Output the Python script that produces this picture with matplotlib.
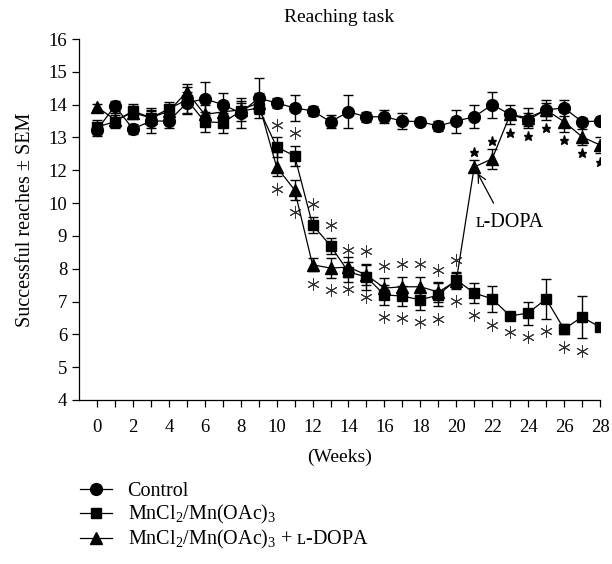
import numpy as np
import matplotlib
matplotlib.use("Agg")
import matplotlib.pyplot as plt
from matplotlib.lines import Line2D
from matplotlib.transforms import offset_copy

plt.rcParams['font.family'] = ['Liberation Serif', 'DejaVu Serif']
plt.rcParams['mathtext.fontset'] = 'custom'
plt.rcParams['mathtext.rm'] = 'Liberation Serif'
plt.rcParams['mathtext.it'] = 'Liberation Serif:italic'
plt.rcParams['font.size'] = 14

weeks = np.arange(29)

control = [13.23, 13.96, 13.26, 13.5, 13.5, 14.05, 14.18, 14.0, 13.75, 14.2,
           14.05, 13.9, 13.81, 13.48, 13.78, 13.63, 13.63, 13.5, 13.48, 13.35,
           13.5, 13.63, 14.0, 13.7, 13.54, 13.84, 13.9, 13.48, 13.5]
control_sem = [0.2, 0.15, 0.15, 0.35, 0.2, 0.35, 0.5, 0.35, 0.45, 0.6,
               0.15, 0.4, 0.15, 0.2, 0.5, 0.15, 0.2, 0.25, 0.1, 0.15,
               0.35, 0.35, 0.4, 0.15, 0.2, 0.2, 0.25, 0.1, 0.1]

mn = [13.32, 13.48, 13.81, 13.6, 13.87, 14.15, 13.48, 13.45, 13.8, 13.9,
      12.71, 12.44, 9.34, 8.7, 7.9, 7.75, 7.2, 7.17, 7.05, 7.2,
      7.66, 7.26, 7.08, 6.56, 6.65, 7.08, 6.16, 6.53, 6.22]
mn_sem = [0.2, 0.2, 0.2, 0.3, 0.2, 0.4, 0.3, 0.3, 0.3, 0.2,
          0.3, 0.3, 0.25, 0.25, 0.3, 0.4, 0.3, 0.3, 0.3, 0.35,
          0.25, 0.3, 0.4, 0.1, 0.35, 0.6, 0.15, 0.65, 0.1]

ldopa = [13.93, 13.54, 13.75, 13.6, 13.8, 14.39, 13.7, 13.78, 13.84, 14.05,
         12.1, 10.8, 8.12, 8.02, 8.05, 7.81, 7.41, 7.45, 7.45, 7.29,
         7.63, 12.1, 12.35, 13.7, 13.6, 13.84, 13.48, 13.02, 12.77]
ldopa_sem = [0.1, 0.2, 0.2, 0.2, 0.2, 0.25, 0.3, 0.3, 0.2, 0.3,
             0.45, 0.6, 0.2, 0.3, 0.3, 0.3, 0.3, 0.3, 0.3, 0.3,
             0.25, 0.2, 0.3, 0.3, 0.3, 0.3, 0.3, 0.25, 0.25]

# weeks with a significance mark, above or below each series
mn_up = [10, 11, 12, 13, 14, 15]
mn_down = [16, 17, 18, 19, 20, 21, 22, 23, 24, 25, 26, 27]
ldopa_up = [16, 17, 18, 19, 20]
ldopa_down = [10, 11, 12, 13, 14, 15]
star_up = [21, 22]
star_down = [23, 24, 25, 26, 27, 28]

ytick_labels = [4, 5, 6, 7, 8, 9, 10, 12, 13, 14, 15, 16]


# the printed axis has no "11": tick 10 and tick 12 are one step apart
def fwd(v):
    v = np.asarray(v, dtype=float)
    return np.where(v <= 10, v - 4, np.where(v >= 12, v - 5, 6 + (v - 10) / 2))


def inv(p):
    p = np.asarray(p, dtype=float)
    return np.where(p <= 6, p + 4, np.where(p >= 7, p + 5, 10 + (p - 6) * 2))


fig = plt.figure(figsize=(6.12, 5.64), dpi=100)
ax = fig.add_axes([79 / 612, 1 - 400 / 564, 521 / 612, 361 / 564])
ax.set_yscale('function', functions=(fwd, inv))

ebkw = dict(color='black', lw=0.9, elinewidth=1.0, capsize=3.5, capthick=1.0)
ax.errorbar(weeks, mn, yerr=mn_sem, fmt='-s', ms=7.5, **ebkw)
ax.errorbar(weeks, ldopa, yerr=ldopa_sem, fmt='-^', ms=8, **ebkw)
ax.errorbar(weeks, control, yerr=control_sem, fmt='-o', ms=8.5, **ebkw)

up = offset_copy(ax.transData, fig=fig, y=9, units='points')
down = offset_copy(ax.transData, fig=fig, y=-9, units='points')
sup = offset_copy(ax.transData, fig=fig, y=6, units='points')
sdown = offset_copy(ax.transData, fig=fig, y=-6, units='points')
ast = dict(ls='none', marker=(6, 2, 0), ms=9, mew=0.7, color='#333333')


def pick(vals, sems, wk, sign):
    return [vals[w] + sign * sems[w] for w in wk]


ax.plot(mn_up, pick(mn, mn_sem, mn_up, 1), transform=up, **ast)
ax.plot(mn_down, pick(mn, mn_sem, mn_down, -1), transform=down, **ast)
ax.plot(ldopa_up, pick(ldopa, ldopa_sem, ldopa_up, 1), transform=up, **ast)
ax.plot(ldopa_down, pick(ldopa, ldopa_sem, ldopa_down, -1), transform=down, **ast)
ax.plot(star_up, pick(ldopa, ldopa_sem, star_up, 1), transform=sup,
        ls='none', marker='*', ms=6.5, color='black')
ax.plot(star_down, pick(ldopa, ldopa_sem, star_down, -1), transform=sdown,
        ls='none', marker='*', ms=6.5, color='black')

ax.annotate('\u029f-DOPA', xy=(21, ldopa[21]), xytext=(21.05, 9.4),
            ha='left', va='center', fontsize=14.5,
            arrowprops=dict(arrowstyle='->', relpos=(0.35, 1.0), shrinkA=6,
                            shrinkB=5, lw=0.9, color='black'))

ax.set_xlim(-1, 28)
ax.set_ylim(4, 16)
ax.set_xticks(weeks, minor=True)
ax.set_xticks(np.arange(0, 29, 2))
ax.set_yticks(ytick_labels)
ax.set_yticklabels([str(t) for t in ytick_labels])
ax.yaxis.set_minor_locator(matplotlib.ticker.NullLocator())
ax.tick_params(which='both', direction='out', length=5, width=0.9, labelsize=13.5)
ax.tick_params(axis='x', pad=9)
for s in ['top', 'right']:
    ax.spines[s].set_visible(False)
for s in ['left', 'bottom']:
    ax.spines[s].set_linewidth(0.9)

ax.set_title('Reaching task', fontsize=14, pad=12)
ax.set_xlabel('(Weeks)', labelpad=9)
ax.set_ylabel('Successful reaches \u00b1 SEM', labelpad=10, fontsize=14.5)

handles = [Line2D([], [], color='black', lw=0.9, marker='o', ms=8.5),
           Line2D([], [], color='black', lw=0.9, marker='s', ms=7.5),
           Line2D([], [], color='black', lw=0.9, marker='^', ms=8)]
labels = ['Control', 'MnCl$_2$/Mn(OAc)$_3$',
          'MnCl$_2$/Mn(OAc)$_3$ + \u029f-DOPA']
fig.legend(handles, labels, loc='upper left', bbox_to_anchor=(0.118, 1 - 474 / 564),
           frameon=False, handlelength=1.6, handletextpad=0.75, labelspacing=0.1,
           borderaxespad=0, fontsize=14.5)

fig.savefig('out.png', dpi=100)
